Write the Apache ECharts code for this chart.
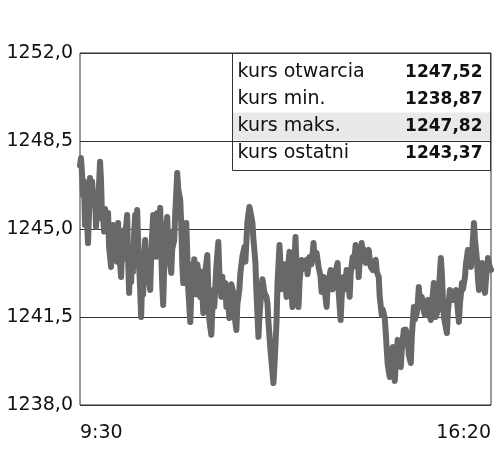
<!DOCTYPE html>
<html>
<head>
<meta charset="utf-8">
<script src="https://cdn.jsdelivr.net/npm/echarts@6/dist/echarts.min.js"></script>
<style>
  html, body { margin: 0; padding: 0; background: #fff; }
  #chart { width: 500px; height: 460px; }
</style>
</head>
<body>
<div id="chart"></div>
<script>
  // minutes since 9:30 and index value
  const minutes = [
    0, 1, 2, 3, 4, 5, 6, 7, 8, 9, 10, 11, 12, 13, 14, 15, 16, 17, 18, 19,
    20, 21, 22, 23, 24, 25, 26, 27, 28, 29, 31, 32, 33, 34, 35, 36, 37, 38, 39, 41,
    42, 43, 44, 45, 46, 47, 48, 49, 50, 51, 52, 53, 54, 55, 56, 57, 58, 59, 60, 61,
    62, 63, 64, 65, 66, 67, 68, 69, 70, 71, 72, 73, 74, 75, 76, 77, 78, 80, 81, 82,
    83, 84, 85, 87, 88, 89, 90, 91, 92, 94, 95, 97, 98, 100, 101, 102, 103, 104, 106, 107,
    108, 110, 111, 112, 113, 114, 115, 116, 117, 119, 120, 121, 123, 124, 125, 127, 128, 129, 131, 132,
    133, 134, 136, 138, 139, 141, 142, 143, 145, 146, 147, 149, 150, 151, 153, 154, 156, 157, 159, 160,
    162, 164, 165, 167, 169, 170, 172, 173, 175, 176, 178, 179, 181, 182, 184, 186, 187, 188, 190, 192,
    193, 194, 196, 197, 199, 200, 201, 203, 204, 206, 207, 209, 210, 212, 213, 215, 216, 218, 219, 221,
    222, 224, 226, 227, 229, 231, 233, 234, 236, 238, 240, 241, 243, 244, 246, 247, 250, 251, 252, 254,
    255, 257, 258, 260, 261, 263, 264, 266, 267, 269, 270, 272, 273, 275, 276, 277, 278, 279, 281, 282,
    283, 285, 286, 288, 289, 290, 292, 293, 295, 296, 298, 299, 301, 302, 304, 305, 306, 307, 309, 310,
    312, 313, 314, 315, 317, 318, 320, 321, 323, 324, 325, 327, 328, 330, 331, 333, 334, 336, 337, 338,
    339, 341, 342, 344, 345, 347, 348, 350, 351, 353, 354, 355, 357, 358, 360, 361, 362, 363, 366, 367,
    369, 370, 372, 373, 375, 376, 378, 379, 381, 382, 384, 385, 387, 388, 390, 391, 393, 394, 396, 397,
    398, 399, 401, 402, 404, 405, 407, 408, 410
  ];
  const prices = [
    1247.52, 1247.82, 1247.2, 1246.35, 1246.9, 1245.16, 1246.0, 1245.3, 1244.44, 1245.6, 1247.03, 1246.2, 1246.9, 1246.83, 1245.9, 1246.4, 1245.08, 1246.1, 1245.6, 1246.8,
    1247.67, 1246.9, 1245.4, 1245.56, 1244.9, 1245.8, 1244.96, 1245.2, 1245.64, 1244.3, 1243.49, 1244.7, 1245.16, 1244.2, 1245.0, 1244.56, 1243.7, 1245.24, 1244.1, 1243.09,
    1244.3, 1243.8, 1244.96, 1243.9, 1245.1, 1245.56, 1243.8, 1242.46, 1243.6, 1242.9, 1244.17, 1243.3, 1244.8, 1245.56, 1244.6, 1245.76, 1244.5, 1243.57, 1242.6, 1241.50,
    1243.0, 1242.4, 1243.8, 1244.56, 1243.3, 1244.1, 1243.69, 1242.9, 1242.57, 1243.9, 1244.8, 1245.56, 1244.3, 1244.76, 1243.9, 1245.64, 1244.7, 1245.84, 1244.2, 1242.8,
    1241.98, 1243.5, 1244.7, 1245.48, 1244.0, 1244.9, 1243.6, 1243.25, 1244.2, 1244.56, 1245.6, 1247.23, 1246.6, 1246.15, 1245.2, 1243.6, 1242.85, 1244.1, 1245.24, 1244.0,
    1242.6, 1241.30, 1242.4, 1243.6, 1242.97, 1243.8, 1243.29, 1242.4, 1243.6, 1243.09, 1242.3, 1243.3, 1241.66, 1242.8, 1243.3, 1243.97, 1242.6, 1241.4, 1240.79, 1241.8,
    1242.57, 1241.9, 1243.5, 1244.48, 1243.3, 1242.30, 1243.1, 1242.4, 1242.85, 1241.9, 1242.7, 1241.46, 1242.2, 1242.8, 1242.46, 1241.6, 1240.98, 1242.0, 1242.6, 1243.25,
    1243.9, 1244.28, 1243.7, 1245.28, 1245.88, 1245.7, 1245.24, 1244.6, 1243.65, 1242.5, 1240.71, 1241.5, 1242.57, 1243.0, 1242.46, 1242.3, 1242.06, 1241.3, 1240.19, 1239.3,
    1238.87, 1239.6, 1241.26, 1242.8, 1244.36, 1243.6, 1242.6, 1242.85, 1243.6, 1242.30, 1243.2, 1244.09, 1243.1, 1241.90, 1243.0, 1244.68, 1243.4, 1241.90, 1242.9, 1243.77,
    1243.4, 1243.6, 1243.77, 1243.2, 1243.89, 1243.6, 1244.44, 1243.8, 1244.05, 1243.5, 1243.09, 1242.5, 1243.09, 1242.6, 1241.90, 1242.7, 1243.37, 1242.8, 1242.6, 1242.85,
    1243.3, 1243.65, 1242.5, 1241.38, 1242.3, 1243.09, 1242.6, 1243.37, 1243.0, 1242.30, 1243.2, 1243.89, 1243.5, 1244.36, 1243.9, 1244.2, 1243.09, 1243.7, 1244.44, 1244.0,
    1244.2, 1243.65, 1244.0, 1244.17, 1243.8, 1243.5, 1243.37, 1243.7, 1243.77, 1243.3, 1243.09, 1242.3, 1241.58, 1241.8, 1241.46, 1240.9, 1240.19, 1239.6, 1239.11, 1239.8,
    1240.31, 1239.5, 1238.95, 1239.7, 1240.59, 1240.0, 1239.51, 1240.2, 1240.98, 1240.4, 1241.0, 1240.59, 1240.0, 1239.67, 1240.7, 1241.90, 1241.4, 1241.66, 1242.1, 1242.69,
    1242.0, 1242.30, 1241.9, 1241.58, 1242.0, 1242.18, 1241.7, 1241.38, 1242.0, 1242.85, 1242.3, 1241.5, 1241.78, 1242.6, 1243.85, 1243.2, 1242.30, 1241.5, 1240.86, 1241.7,
    1242.57, 1242.3, 1242.18, 1242.5, 1242.57, 1242.2, 1241.30, 1242.0, 1242.85, 1242.6, 1243.09, 1243.6, 1244.17, 1243.8, 1243.49, 1244.0, 1245.24, 1244.6, 1243.77, 1243.0,
    1242.57, 1243.1, 1243.65, 1243.2, 1242.46, 1243.0, 1243.85, 1243.6, 1243.37
  ];
  const yTicks = [1238, 1241.5, 1245, 1248.5, 1252];
  const startTime = '9:30';
  const endTime = '16:20';
  const statLabels = ['kurs otwarcia', 'kurs min.', 'kurs maks.', 'kurs ostatni'];
  const statValues = ['1247,52', '1238,87', '1247,82', '1243,37'];

  const font = '"DejaVu Sans", sans-serif';
  const chart = echarts.init(document.getElementById('chart'));

  const rowY = [19, 46, 73, 100];
  const tableKids = [
    {type: 'rect', shape: {x: 0, y: 0, width: 258, height: 117},
      style: {fill: '#fff', stroke: '#333', lineWidth: 1}},
    {type: 'rect', shape: {x: 0.5, y: 59, width: 257, height: 28},
      style: {fill: '#e9e9e9'}}
  ];
  statLabels.forEach((t, i) => {
    tableKids.push({type: 'text', x: 5, y: rowY[i],
      style: {text: t, fill: '#111', font: '19px ' + font,
        textAlign: 'left', textVerticalAlign: 'middle', align: 'left', verticalAlign: 'middle'}});
    tableKids.push({type: 'text', x: 250, y: rowY[i],
      style: {text: statValues[i], fill: '#111', font: 'bold 17px ' + font,
        textAlign: 'right', textVerticalAlign: 'middle', align: 'right', verticalAlign: 'middle'}});
  });

  chart.setOption({
    animation: false,
    backgroundColor: '#fff',
    grid: {left: 80, right: 9, top: 53, bottom: 55, show: true, borderColor: '#333', borderWidth: 1},
    xAxis: {
      type: 'value',
      min: 0,
      max: 410,
      interval: 410,
      axisLine: {show: false},
      axisTick: {show: false},
      splitLine: {show: false},
      axisLabel: {
        margin: 19,
        fontSize: 19,
        fontFamily: font,
        color: '#111',
        alignMinLabel: 'left',
        alignMaxLabel: 'right',
        formatter: v => (v === 0 ? startTime : endTime)
      }
    },
    yAxis: {
      type: 'value',
      min: 1238,
      max: 1252,
      axisLine: {show: false},
      axisTick: {show: false, customValues: yTicks},
      splitLine: {show: true, lineStyle: {color: '#333', width: 1}},
      axisLabel: {
        customValues: yTicks,
        margin: 7,
        fontSize: 19,
        fontFamily: font,
        color: '#111',
        formatter: v => v.toFixed(1).replace('.', ',')
      }
    },
    graphic: [{type: 'group', left: 232, top: 53, z: 100, children: tableKids}],
    series: [{
      type: 'line',
      data: minutes.map((m, i) => [m, prices[i]]),
      symbol: 'none',
      lineStyle: {color: '#686868', width: 6, join: 'round', cap: 'round'}
    }]
  });
</script>
</body>
</html>
